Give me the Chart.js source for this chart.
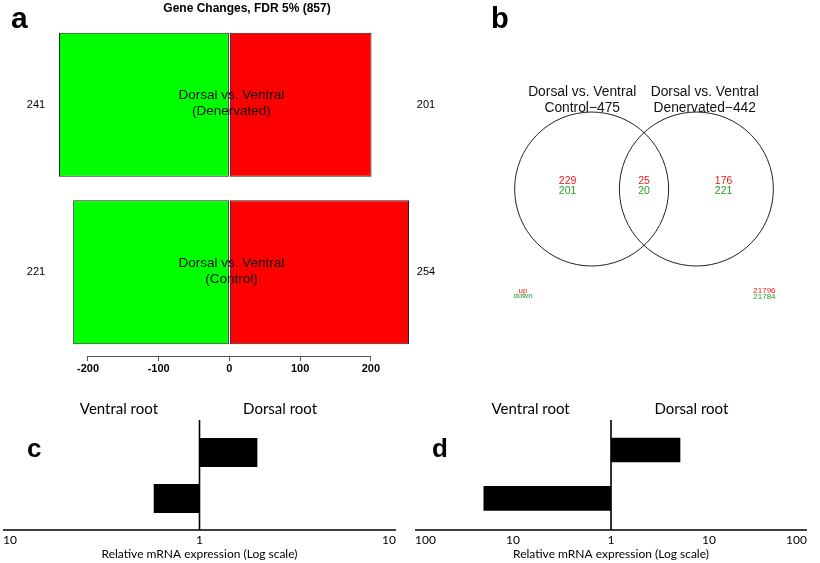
<!DOCTYPE html>
<html>
<head>
<meta charset="utf-8">
<script src="https://cdn.jsdelivr.net/npm/chart.js@4.4.0/dist/chart.umd.min.js"></script>
<style>
  body { margin: 0; background: #fff; }
  #fig { position: relative; width: 820px; height: 563px; overflow: hidden; background: #fff; }
  #fig canvas { position: absolute; }
</style>
</head>
<body>
<div id="fig">
  <canvas id="ca" width="440" height="380" style="left:0;top:0"></canvas>
  <canvas id="cb" width="310" height="320" style="left:489px;top:0"></canvas>
  <canvas id="cc" width="410" height="183" style="left:0;top:380px"></canvas>
  <canvas id="cd" width="410" height="183" style="left:410px;top:380px"></canvas>
</div>
<script>
const SANS = "'Liberation Sans', Arial, Helvetica, sans-serif";
const HUM = "Lato, 'Open Sans', sans-serif";

// a: genes changed per comparison (negative = higher in ventral, positive = higher in dorsal)
const compLabels = ['Denervated', 'Control'];
const downCounts = [-241, -221];
const upCounts = [201, 254];
const aTicks = [-200, -100, 0, 100, 200];

// b: venn regions = control only, both, denervated only
const vennTitles = [['Dorsal vs. Ventral', 'Control\u2212475'], ['Dorsal vs. Ventral', 'Denervated\u2212442']];
const vennCentres = [-0.5, 0.5];
const vennUp = [229, 25, 176];
const vennDown = [201, 20, 221];
const vennRest = [21796, 21784];

// c, d: qPCR fold change (positive = dorsal root, negative = ventral root)
const qpcrRows = ['dorsal-enriched', 'ventral-enriched'];
const sideLabels = ['Ventral root', 'Dorsal root'];
const cFold = [1.97, -1.71];
const dFold = [5.1, -20];
const cTicks = [-1, 0, 1];
const dTicks = [-2, -1, 0, 1, 2];

const toLog = f => Math.sign(f) * Math.log10(Math.abs(f));

function txt(ctx, s, x, y, font, color = '#000', align = 'center', base = 'middle') {
    ctx.save();
    ctx.font = font;
    ctx.fillStyle = color;
    ctx.textAlign = align;
    ctx.textBaseline = base;
    ctx.fillText(s, x, y);
    ctx.restore();
}

const quiet = { legend: { display: false }, tooltip: { enabled: false } };

// ---- panel a
const panelA = {
    id: 'panelA',
    afterDatasetsDraw(chart) {
        const { ctx, scales: { x, y } } = chart;
        const zero = x.getPixelForValue(0);
        compLabels.forEach((lab, i) => {
            const cy = y.getPixelForValue(i);
            txt(ctx, String(-downCounts[i]), 36, cy, `11px ${SANS}`);
            txt(ctx, String(upCounts[i]), 426, cy, `11px ${SANS}`);
            txt(ctx, 'Dorsal vs. Ventral', zero + 2, cy - 9, `13.5px ${SANS}`, '#111');
            txt(ctx, '(' + lab + ')', zero + 2, cy + 7, `13.5px ${SANS}`, '#111');
        });
        ctx.save();
        ctx.strokeStyle = '#555';
        ctx.lineWidth = 1;
        ctx.beginPath();
        ctx.moveTo(x.getPixelForValue(aTicks[0]), x.top + 0.5);
        ctx.lineTo(x.getPixelForValue(aTicks[aTicks.length - 1]), x.top + 0.5);
        ctx.stroke();
        ctx.restore();
        txt(ctx, 'Gene Changes, FDR 5% (857)', 247, 9, `bold 12px ${SANS}`);
        txt(ctx, 'a', 11, 28, `bold 30px ${SANS}`, '#000', 'left', 'alphabetic');
    },
};

new Chart(document.getElementById('ca'), {
    type: 'bar',
    data: {
        labels: compLabels,
        datasets: [
            { data: downCounts, backgroundColor: '#00ff00' },
            { data: upCounts, backgroundColor: '#ff0000' },
        ],
    },
    options: {
        indexAxis: 'y',
        responsive: false,
        animation: false,
        events: [],
        datasets: { bar: { borderColor: '#222', borderWidth: 1, borderSkipped: false, categoryPercentage: 1, barPercentage: 0.86 } },
        layout: { padding: { left: 59, right: 31, top: 21, bottom: 0 } },
        plugins: quiet,
        scales: {
            x: {
                stacked: true,
                min: Math.min(...downCounts),
                max: Math.max(...upCounts),
                afterBuildTicks: s => { s.ticks = aTicks.map(v => ({ value: v })); },
                afterFit: s => { s.height = 24; },
                grid: { drawOnChartArea: false, drawTicks: true, tickLength: 5, color: '#555' },
                border: { display: false },
                ticks: { padding: 1, autoSkip: false, maxRotation: 0, color: '#000', font: { family: SANS, size: 11, weight: 'bold' } },
            },
            y: { display: false, stacked: true },
        },
    },
    plugins: [panelA],
});

// ---- panel b
const titleX = [-0.59, 0.58];
const regionX = [-0.73, 0, 0.76];
const cornerX = [-1.155, 1.15];

const vennDecor = {
    id: 'vennDecor',
    afterDatasetsDraw(chart) {
        const { ctx, scales: { x, y } } = chart;
        const cy = y.getPixelForValue(0);
        vennTitles.forEach((lines, i) => lines.forEach((s, j) =>
            txt(ctx, s, x.getPixelForValue(titleX[i]), 92 + 16 * j, `13.8px ${SANS}`, '#111')));
        regionX.forEach((rx, i) => {
            const px = x.getPixelForValue(rx);
            txt(ctx, String(vennUp[i]), px, cy - 7.5, `10.5px ${SANS}`, '#ee1515');
            txt(ctx, String(vennDown[i]), px, cy + 2, `10.5px ${SANS}`, '#22a022');
        });
        const lx = x.getPixelForValue(cornerX[0]);
        const rx = x.getPixelForValue(cornerX[1]);
        txt(ctx, 'up', lx, 291, `8px ${SANS}`, '#ee1515');
        txt(ctx, 'down', lx, 296, `8px ${SANS}`, '#22a022');
        txt(ctx, String(vennRest[0]), rx, 291, `8px ${SANS}`, '#ee1515');
        txt(ctx, String(vennRest[1]), rx, 297, `8px ${SANS}`, '#22a022');
        txt(ctx, 'b', 2, 28, `bold 29px ${SANS}`, '#000', 'left', 'alphabetic');
    },
};

new Chart(document.getElementById('cb'), {
    type: 'scatter',
    data: {
        datasets: [{
            data: vennCentres.map(v => ({ x: v, y: 0 })),
            pointRadius: 77,
            backgroundColor: 'rgba(0,0,0,0)',
            borderColor: '#222',
            borderWidth: 1,
            clip: false,
        }],
    },
    options: {
        responsive: false,
        animation: false,
        events: [],
        layout: { padding: 0, autoPadding: false },
        plugins: quiet,
        scales: {
            x: { display: false, min: -1.48, max: 1.48 },
            y: { display: false, min: -1.251, max: 1.805 },
        },
    },
    plugins: [vennDecor],
});

// ---- panels c and d
const rootDecor = (tag, tagX) => ({
    id: 'rootDecor',
    afterDatasetsDraw(chart) {
        const { ctx, scales: { x } } = chart;
        const zero = x.getPixelForValue(0);
        ctx.save();
        ctx.strokeStyle = '#000';
        ctx.lineWidth = 1.6;
        ctx.beginPath();
        ctx.moveTo(zero, 40);
        ctx.lineTo(zero, 150);
        ctx.moveTo(x.left, 150);
        ctx.lineTo(x.right, 150);
        ctx.stroke();
        ctx.restore();
        sideLabels.forEach((s, i) =>
            txt(ctx, s, x.getPixelForValue((i ? 1 : -1) * 0.41 * x.max), 29, `15px ${HUM}`));
        txt(ctx, tag, tagX, 77, `bold 26px ${SANS}`, '#000', 'left', 'alphabetic');
    },
});

function makeRootChart(id, fold, ticks, tag, p) {
    const lim = ticks[ticks.length - 1];
    return new Chart(document.getElementById(id), {
        type: 'bar',
        data: {
            labels: qpcrRows,
            datasets: [{ data: fold.map(toLog), backgroundColor: '#000', borderWidth: 0, categoryPercentage: 1, barPercentage: p.bar }],
        },
        options: {
            indexAxis: 'y',
            responsive: false,
            animation: false,
            events: [],
            layout: { padding: { left: p.left, right: p.right, top: p.top, bottom: 0 } },
            plugins: quiet,
            scales: {
                x: {
                    min: -lim,
                    max: lim,
                    afterBuildTicks: s => { s.ticks = ticks.map(v => ({ value: v })); },
                    afterFit: s => { s.height = p.axis; },
                    grid: { display: false, drawTicks: true, tickLength: p.tick },
                    border: { display: false },
                    ticks: {
                        align: 'inner', autoSkip: false, maxRotation: 0, padding: 0, color: '#000',
                        font: { family: HUM, size: 12 },
                        callback: v => String(10 ** Math.abs(v)),
                    },
                    title: {
                        display: true, text: 'Relative mRNA expression (Log scale)', color: '#000',
                        font: { family: HUM, size: 12 }, padding: { top: 0, bottom: 2 },
                    },
                },
                y: { display: false },
            },
        },
        plugins: [rootDecor(tag, p.tagX)],
    });
}

makeRootChart('cc', cFold, cTicks, 'c', { left: 3, right: 14, top: 49.5, axis: 41.5, tick: 11.5, bar: 0.63, tagX: 27 });
makeRootChart('cd', dFold, dTicks, 'd', { left: 5, right: 13, top: 45.8, axis: 40.5, tick: 10.5, bar: 0.51, tagX: 22 });
</script>
</body>
</html>
